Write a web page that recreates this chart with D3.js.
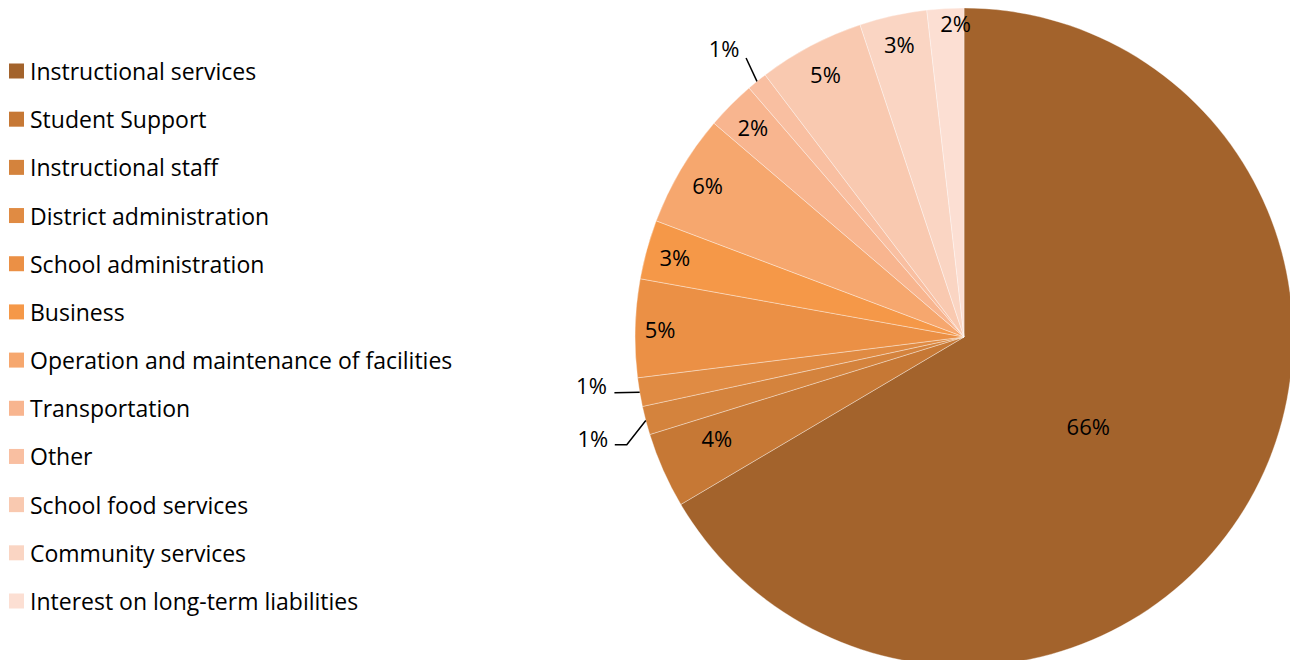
<!DOCTYPE html>
<html>
<head>
<meta charset="utf-8">
<script src="https://cdn.jsdelivr.net/npm/d3@7"></script>
<style>
  html, body { margin: 0; padding: 0; background: #fff; }
  svg { display: block; }
  text { font-family: "Open Sans", Lato, sans-serif; fill: #000; }
</style>
</head>
<body>
<div id="chart"></div>
<script>
// categories + values (percent of total)
const categories = [
  "Instructional services", "Student Support", "Instructional staff",
  "District administration", "School administration", "Business",
  "Operation and maintenance of facilities", "Transportation", "Other",
  "School food services", "Community services", "Interest on long-term liabilities"
];
const values = [66.3, 3.7, 1.4, 1.4, 4.8, 2.9, 5.5, 2.4, 1.0, 5.2, 3.3, 1.8];
const colors = [
  "#a3632c", "#c67835", "#d4833d", "#e08b43", "#eb9045", "#f59848",
  "#f6a76e", "#f8b58f", "#f9bfa1", "#f9c9b0", "#fad5c3", "#fcdfd3"
];
// label placement: inside at a radius (null = outside with a leader line),
// plus a small angle nudge in degrees like Excel's best fit
const labelRadius = [153, 267, null, null, 304, 300, 298, 298, null, 297, 300, 314];
const labelNudge  = [6, 1.7, -3, 0.6, 0, 0, 0, 0, 1, 0, 0, 1.7];

const width = 1290, height = 660;
const cx = 964, cy = 337, radius = 329;
const legendFont = "23px", labelFont = "22px";

const svg = d3.select("#chart").append("svg")
  .attr("width", width)
  .attr("height", height);

const total = d3.sum(values);
const data = categories.map((c, i) => ({name: c, value: values[i], color: colors[i], lr: labelRadius[i], nudge: labelNudge[i], idx: i}));

//---------------- pie ----------------
const pie = d3.pie().value(d => d.value).sort(null);
const arcs = pie(data);
const arc = d3.arc().innerRadius(0).outerRadius(radius);

const g = svg.append("g").attr("transform", `translate(${cx},${cy})`);

g.selectAll("path.slice").data(arcs)
  .enter()
  .append("path")
  .attr("class", "slice")
  .attr("d", arc)
  .attr("fill", d => d.data.color)
  .attr("stroke", "rgba(255,255,255,0.45)")
  .attr("stroke-width", 0.8);

const fmt = v => Math.round(v / total * 100) + "%";
const rad = deg => deg * Math.PI / 180;

// labels inside the slices
arcs.filter(d => d.data.lr !== null).forEach(d => {
  const a = (d.startAngle + d.endAngle) / 2 + rad(d.data.nudge);
  g.append("text")
    .attr("x", Math.sin(a) * d.data.lr)
    .attr("y", -Math.cos(a) * d.data.lr)
    .attr("text-anchor", "middle")
    .attr("dominant-baseline", "central")
    .style("font-size", labelFont)
    .text(fmt(d.value));
});

// small slices: outside labels with leader lines
const outside = arcs.filter(d => d.data.lr === null);
outside.forEach(d => {
  const a = (d.startAngle + d.endAngle) / 2;
  const ea = a + rad(d.data.nudge);
  const p0 = [Math.sin(a) * radius, -Math.cos(a) * radius];
  const p1 = [Math.sin(ea) * 354, -Math.cos(ea) * 354];
  const pts = [p0, p1];
  let tx, ty;
  if (d.data.idx === 2) {
    const p2 = [p1[0] - 12, p1[1]];
    pts.push(p2);
    tx = p2[0] - 22; ty = p2[1] - 7;
  } else if (d.data.idx === 3) {
    tx = p1[0] - 23; ty = p1[1] - 8;
  } else {
    tx = p1[0] - 22; ty = p1[1] - 10;
  }
  g.append("path")
    .attr("d", d3.line()(pts))
    .attr("fill", "none")
    .attr("stroke", "#000")
    .attr("stroke-width", 1.5);
  g.append("text")
    .attr("x", tx)
    .attr("y", ty)
    .attr("text-anchor", "middle")
    .attr("dominant-baseline", "central")
    .style("font-size", labelFont)
    .text(fmt(d.value));
});

//---------------- legend ----------------
const legendY = d3.scalePoint().domain(categories).range([71, 601]);
const legend = svg.append("g");
const rows = legend.selectAll("g").data(data).enter().append("g")
  .attr("transform", d => `translate(0,${legendY(d.name)})`);
rows.append("rect")
  .attr("x", 9).attr("y", -7.5)
  .attr("width", 15).attr("height", 15)
  .attr("fill", d => d.color);
rows.append("text")
  .attr("x", 30).attr("y", 0)
  .attr("dominant-baseline", "central")
  .style("font-size", legendFont)
  .text(d => d.name);
</script>
</body>
</html>
